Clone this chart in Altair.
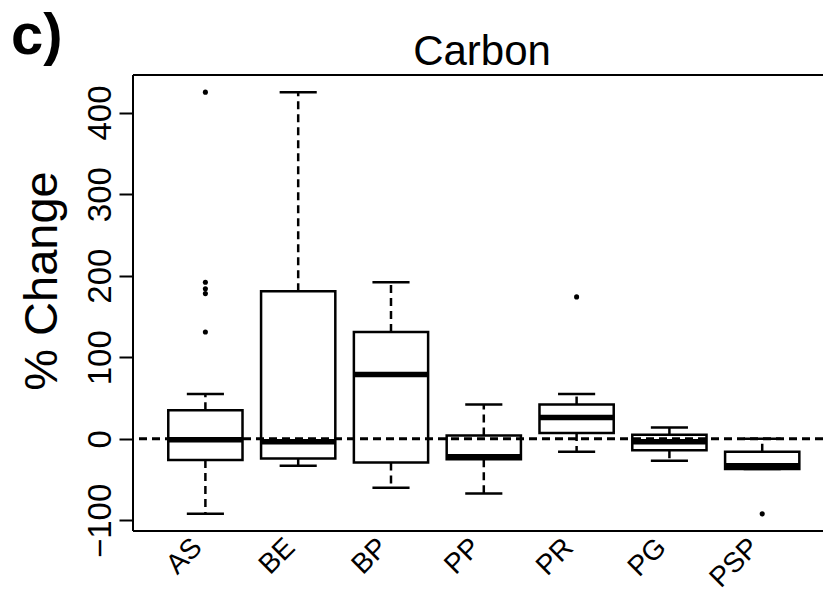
import altair as alt
import pandas as pd

# ---- data ----
groups = ["AS", "BE", "BP", "PP", "PR", "PG", "PSP"]
lower_whisker = [-92, -33, -60, -67, -16, -27, -37]
q1 = [-26, -24, -29, -25, 7, -14, -37]
median = [-1, -3.5, 79, -22, 26, -3.5, -33]
q3 = [35, 181, 131, 4, 42, 5, -16]
upper_whisker = [55, 425, 192, 42, 55, 14, 0]

outlier_group = ["AS", "AS", "AS", "AS", "AS", "PR", "PSP"]
outlier_value = [425, 192, 184, 178, 131, 174, -92]

y_ticks = [-100, 0, 100, 200, 300, 400]
panel_label = "c)"
chart_title = "Carbon"
y_title = "% Change"

FONT = "Liberation Sans"
LW = 2.5

pos = [i + 1 for i in range(len(groups))]
boxes = pd.DataFrame({
    "group": groups, "pos": pos,
    "left": [p - 0.4 for p in pos], "right": [p + 0.4 for p in pos],
    "cl": [p - 0.2 for p in pos], "cr": [p + 0.2 for p in pos],
    "lo": lower_whisker, "q1": q1, "med": median, "q3": q3, "hi": upper_whisker,
})
outliers = pd.DataFrame({
    "pos": [groups.index(g) + 1 for g in outlier_group],
    "value": outlier_value,
})

label_expr = "[" + ",".join("'%s'" % g for g in groups) + "][datum.value - 1]"

xscale = alt.Scale(domain=[0.22, 7.655], nice=False, zero=False)
yscale = alt.Scale(domain=[-113, 446], nice=False, zero=False)

x_axis = alt.Axis(values=pos, labelExpr=label_expr, labelAngle=-45,
                  labelAlign="right", labelBaseline="middle", ticks=False,
                  domain=False, grid=False, title=None, labelFontSize=28,
                  labelPadding=12, labelOffset=-8, labelFont=FONT,
                  labelColor="black", labelFlush=False, labelOverlap=False)
y_axis = alt.Axis(values=y_ticks, labelAngle=270, labelAlign="center",
                  labelBaseline="alphabetic", tickSize=14, tickWidth=2,
                  tickColor="black", labelPadding=9, domain=False, grid=False,
                  title=None, labelFontSize=33, labelFont=FONT,
                  labelColor="black", labelFlush=False, labelOverlap=False)

base = alt.Chart(boxes)

box = base.mark_rect(fill="white", stroke="black", strokeWidth=LW).encode(
    x=alt.X("left:Q", scale=xscale, axis=x_axis),
    x2="right:Q",
    y=alt.Y("q1:Q", scale=yscale, axis=y_axis),
    y2="q3:Q",
)
med = base.mark_rule(color="black", strokeWidth=5.5).encode(
    x="left:Q", x2="right:Q", y="med:Q")
w_up = base.mark_rule(color="black", strokeWidth=LW, strokeDash=[8, 5]).encode(
    x="pos:Q", y="q3:Q", y2="hi:Q")
w_lo = base.mark_rule(color="black", strokeWidth=LW, strokeDash=[8, 5]).encode(
    x="pos:Q", y="q1:Q", y2="lo:Q")
cap_up = base.mark_rule(color="black", strokeWidth=LW).encode(
    x="cl:Q", x2="cr:Q", y="hi:Q")
cap_lo = base.mark_rule(color="black", strokeWidth=LW).encode(
    x="cl:Q", x2="cr:Q", y="lo:Q")
pts = alt.Chart(outliers).mark_circle(color="black", size=26, opacity=1).encode(
    x="pos:Q", y="value:Q")

zero = alt.Chart(pd.DataFrame({"v": [0]})).mark_rule(
    color="black", strokeWidth=3, strokeDash=[8, 5]).encode(y="v:Q")

# frame (left, top, bottom; right side falls outside the cropped picture)
frame_top = alt.Chart(pd.DataFrame({"a": [0]})).mark_rule(color="black", strokeWidth=2).encode(
    x=alt.value(0), x2=alt.value(690), y=alt.value(0))
frame_bot = alt.Chart(pd.DataFrame({"a": [0]})).mark_rule(color="black", strokeWidth=2).encode(
    x=alt.value(0), x2=alt.value(690), y=alt.value(456))
frame_left = alt.Chart(pd.DataFrame({"a": [0]})).mark_rule(color="black", strokeWidth=2).encode(
    x=alt.value(0), y=alt.value(0), y2=alt.value(456))

t_panel = alt.Chart(pd.DataFrame({"t": [panel_label]})).mark_text(
    font=FONT, fontSize=58, fontWeight="bold", align="left",
    baseline="alphabetic", color="black").encode(
    text="t:N", x=alt.value(-122), y=alt.value(-21))
t_title = alt.Chart(pd.DataFrame({"t": [chart_title]})).mark_text(
    font=FONT, fontSize=42, align="center", baseline="alphabetic",
    color="black").encode(text="t:N", x=alt.value(349), y=alt.value(-10))
t_ytitle = alt.Chart(pd.DataFrame({"t": [y_title]})).mark_text(
    font=FONT, fontSize=47, align="center", baseline="alphabetic", angle=270,
    color="black").encode(text="t:N", x=alt.value(-76), y=alt.value(206))

chart = alt.layer(
    box, w_up, w_lo, cap_up, cap_lo, med, pts, zero,
    frame_top, frame_bot, frame_left, t_panel, t_title, t_ytitle,
).properties(
    width=690, height=456,
    autosize=alt.AutoSizeParams(type="none"),
    padding={"left": 133, "top": 75, "right": 0, "bottom": 65},
    background="white",
).configure_view(stroke=None)

chart.save("out.html", embed_options={"renderer": "svg", "actions": False})
